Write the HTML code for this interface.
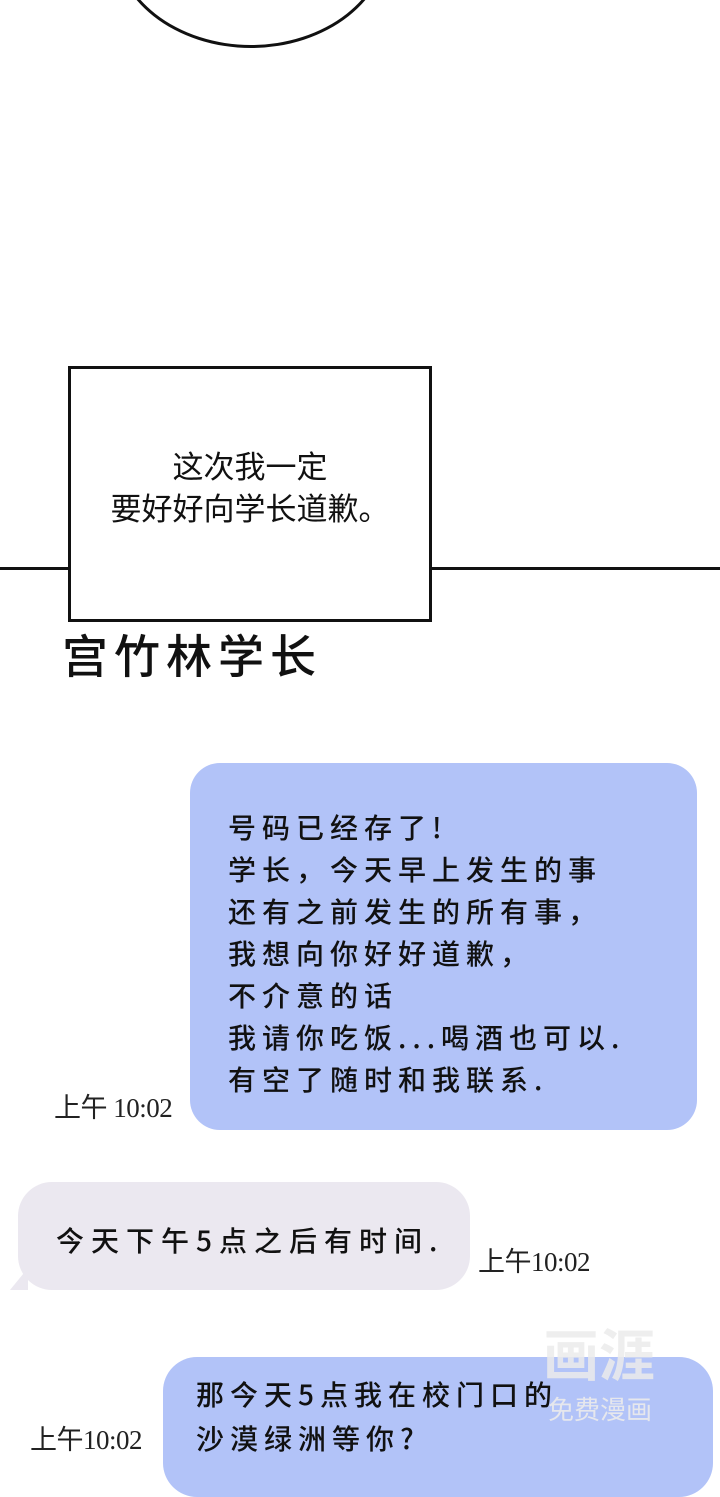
<!DOCTYPE html>
<html><head><meta charset="utf-8"><style>
body{margin:0;width:720px;height:1440px;background:#fff;position:relative;overflow:hidden;font-family:"Liberation Sans","Noto Sans CJK SC",sans-serif;}
.a{position:absolute;}
.cjk{font-family:"Noto Sans CJK SC","WenQuanYi Zen Hei",sans-serif;color:#111;font-weight:500;}
.time{font-family:"Liberation Serif","Noto Sans CJK SC",serif;font-size:27px;color:#222;letter-spacing:-0.5px;}
</style></head><body>
<div class="a" style="left:113px;top:-170px;width:270px;height:212px;border:3px solid #111;border-radius:50%;"></div>
<div class="a" style="left:0;top:567px;width:720px;height:3px;background:#111;"></div>
<div class="a" style="left:68px;top:366px;width:358px;height:250px;border:3px solid #111;background:#fff;"></div>
<div class="a cjk" style="left:68px;top:444px;width:364px;text-align:center;font-size:31px;line-height:42px;font-weight:400;">这次我一定<br>要好好向学长道歉。</div>
<div class="a cjk" style="left:62px;top:624px;font-size:46px;letter-spacing:6px;line-height:60px;">宫竹林学长</div>
<div class="a" style="left:190px;top:763px;width:507px;height:367px;background:#b2c3f8;border-radius:30px;"></div>
<div class="a cjk" style="left:228px;top:806px;font-size:28px;line-height:42px;letter-spacing:6px;">号码已经存了!<br>学长，今天早上发生的事<br>还有之前发生的所有事，<br>我想向你好好道歉，<br>不介意的话<br>我请你吃饭...喝酒也可以.<br>有空了随时和我联系.</div>
<div class="a time" style="left:54px;top:1086px;">上午 10:02</div>
<div class="a" style="left:18px;top:1182px;width:452px;height:108px;background:#ebe8f0;border-radius:34px;"></div>
<div class="a" style="left:10px;top:1268px;width:0;height:0;border-left:18px solid transparent;border-bottom:22px solid #ebe8f0;"></div>
<div class="a cjk" style="left:56px;top:1220px;font-size:28px;letter-spacing:7px;line-height:40px;">今天下午5点之后有时间.</div>
<div class="a time" style="left:478px;top:1240px;">上午10:02</div>
<div class="a" style="left:163px;top:1357px;width:550px;height:140px;background:#b2c3f8;border-radius:34px;"></div>
<div class="a cjk" style="left:196px;top:1372px;font-size:28px;letter-spacing:6px;line-height:44px;">那今天5点我在校门口的<br>沙漠绿洲等你?</div>
<div class="a time" style="left:30px;top:1418px;">上午10:02</div>
<div class="a" style="left:543px;top:1318px;font-family:'Noto Sans CJK SC',sans-serif;font-size:56px;line-height:70px;color:rgba(235,235,235,0.85);font-weight:700;">画涯</div>
<div class="a" style="left:548px;top:1392px;font-family:'Noto Sans CJK SC',sans-serif;font-size:26px;line-height:34px;color:rgba(235,235,235,0.9);">免费漫画</div>
</body></html>
